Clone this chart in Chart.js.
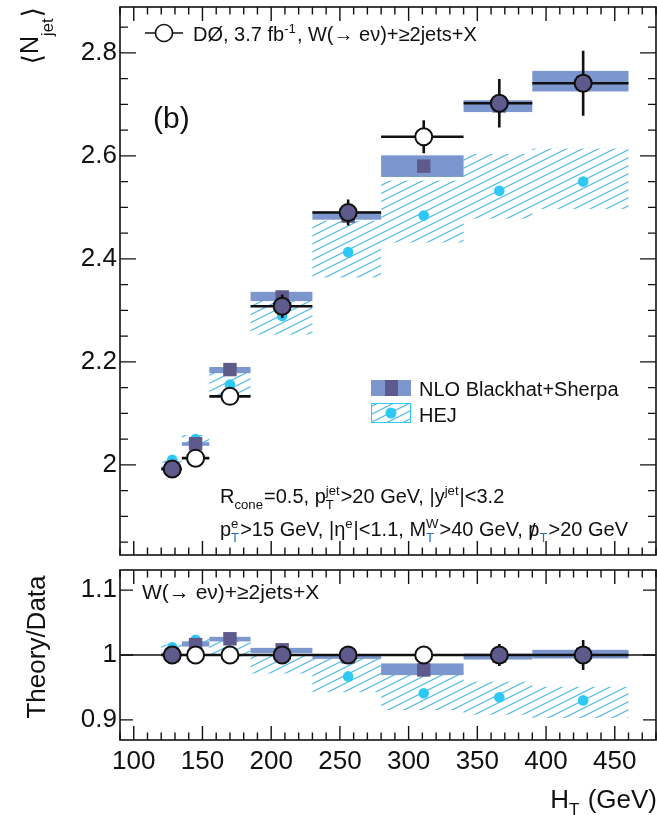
<!DOCTYPE html>
<html>
<head>
<meta charset="utf-8">
<script src="https://cdn.jsdelivr.net/npm/chart.js@4.4.0/dist/chart.umd.min.js"></script>
<style>
  html, body { margin: 0; padding: 0; background: #fff; }
  #wrap { position: relative; width: 657px; height: 815px; overflow: hidden; }
  #wrap canvas { position: absolute; left: 0; }
</style>
</head>
<body>
<div id="wrap">
  <canvas id="main" width="657" height="560" style="top:0"></canvas>
  <canvas id="ratio" width="657" height="255" style="top:560px"></canvas>
</div>
<script>
// H_T bins and mean H_T per bin
const binLo = [120, 135, 155, 185, 230, 280, 340, 390];
const binHi = [135, 155, 185, 230, 280, 340, 390, 460];
const htMean = [128, 145, 170, 208, 256, 311, 366, 427];

// measured <N_jet>
const dataNjet = [1.992, 2.013, 2.133, 2.308, 2.490, 2.637, 2.702, 2.741];
const dataErr = [0.008, 0.010, 0.015, 0.023, 0.025, 0.032, 0.047, 0.063];

// NLO Blackhat+Sherpa
const nloNjet = [1.993, 2.041, 2.185, 2.326, 2.483, 2.580, 2.697, 2.743];
const nloLo = [1.989, 2.037, 2.178, 2.318, 2.476, 2.559, 2.685, 2.725];
const nloHi = [1.997, 2.044, 2.190, 2.336, 2.492, 2.601, 2.708, 2.765];

// HEJ
const hejNjet = [2.010, 2.050, 2.156, 2.289, 2.413, 2.484, 2.532, 2.550];
const hejLo = [2.004, 2.039, 2.133, 2.253, 2.364, 2.432, 2.478, 2.497];
const hejHi = [2.016, 2.058, 2.179, 2.318, 2.474, 2.552, 2.604, 2.614];

// theory / data
const ratioOne = [1, 1, 1, 1, 1, 1, 1, 1];
const ratioErr = [0.004, 0.005, 0.007, 0.010, 0.010, 0.012, 0.017, 0.023];
const nloRatio = [1.001, 1.016, 1.025, 1.008, 0.997, 0.977, 0.998, 1.001];
const nloRatioLo = [0.998, 1.013, 1.021, 1.003, 0.994, 0.969, 0.993, 0.9945];
const nloRatioHi = [1.004, 1.021, 1.028, 1.011, 1.000, 0.987, 1.002, 1.008];
const hejRatio = [1.012, 1.0235, 1.005, 0.9945, 0.967, 0.941, 0.935, 0.930];
const hejRatioLo = [1.008, 1.013, 0.997, 0.9715, 0.943, 0.915, 0.908, 0.903];
const hejRatioHi = [1.016, 1.026, 1.022, 1.000, 0.997, 0.974, 0.959, 0.951];

// axis labels
const xTickLabels = [100, 150, 200, 250, 300, 350, 400, 450];
const yTickLabels = [2, 2.2, 2.4, 2.6, 2.8];
const ratioTickLabels = [0.9, 1, 1.1];

const FONT = '"Liberation Sans", Arial, Helvetica, sans-serif';
const ink = '#111';
const nloBand = 'rgb(123,151,206)';
const nloMark = 'rgb(94,90,140)';
const hejDot = 'rgb(46,200,245)';
const hejLine = 'rgb(98,190,228)';
const markerFill = [nloMark, '#fff', '#fff', nloMark, nloMark, '#fff', nloMark, nloMark];

Chart.defaults.font.family = FONT;

// diagonal hatch used for the HEJ band
function hatch() {
    const c = document.createElement('canvas');
    c.width = 16; c.height = 8;
    const g = c.getContext('2d');
    g.strokeStyle = hejLine;
    g.lineWidth = 1.3;
    g.beginPath();
    [-8, 0, 8].forEach(d => { g.moveTo(-4, 10 + d); g.lineTo(20, -2 + d); });
    g.stroke();
    return g.createPattern(c, 'repeat');
}
const hejHatch = hatch();

// text with sub/superscripts, returns the width drawn
function richText(ctx, x, y, parts, size, align) {
    const big = size + 'px ' + FONT;
    const small = (size * 0.66).toFixed(1) + 'px ' + FONT;
    const w = parts.map(p => {
        if (typeof p === 'string' || p.slash) {
            ctx.font = big;
            return ctx.measureText(typeof p === 'string' ? p : p.slash).width;
        }
        if (p.t) { ctx.font = p.font; return ctx.measureText(p.t).width; }
        ctx.font = small;
        return Math.max(p.sub ? ctx.measureText(p.sub).width : 0,
                        p.sup ? ctx.measureText(p.sup).width : 0) + 1;
    });
    const total = w.reduce((a, b) => a + b, 0);
    let cx = x;
    if (align === 'right') cx -= total;
    if (align === 'center') cx -= total / 2;
    ctx.textAlign = 'left';
    ctx.textBaseline = 'alphabetic';
    parts.forEach((p, i) => {
        ctx.fillStyle = ink;
        if (typeof p === 'string') {
            ctx.font = big;
            ctx.fillText(p, cx, y);
        } else if (p.t) {
            ctx.font = p.font;
            ctx.fillText(p.t, cx, y + (p.dy || 0));
        } else if (p.slash) {
            ctx.font = big;
            ctx.fillText(p.slash, cx, y);
            ctx.fillText('/', cx + w[i] * 0.15, y + size * 0.12);
        } else {
            ctx.font = small;
            if (p.sup) ctx.fillText(p.sup, cx, y - size * 0.42);
            if (p.sub) {
                if (p.tint) ctx.fillStyle = p.tint;
                ctx.fillText(p.sub, cx, y + size * (p.dy || 0.28));
            }
        }
        cx += w[i];
    });
    return total;
}

function rotatedText(ctx, x, y, parts, size, align) {
    ctx.save();
    ctx.translate(x, y);
    ctx.rotate(-Math.PI / 2);
    richText(ctx, 0, 0, parts, size, align);
    ctx.restore();
}

// boxes, error bars, frame and inside ticks for one panel
function panelPlugin(cfg) {
    return {
        id: 'panel',
        beforeDatasetsDraw(chart) {
            const { ctx, chartArea: a, scales: { x, y } } = chart;
            ctx.save();
            ctx.beginPath();
            ctx.rect(a.left, a.top, a.right - a.left, a.bottom - a.top);
            ctx.clip();
            cfg.bands.forEach(b => {
                ctx.fillStyle = b.fill;
                binLo.forEach((lo, i) => {
                    const x0 = x.getPixelForValue(lo), x1 = x.getPixelForValue(binHi[i]);
                    const y0 = y.getPixelForValue(b.hi[i]), y1 = y.getPixelForValue(b.lo[i]);
                    ctx.fillRect(x0, y0, x1 - x0, y1 - y0);
                });
            });
            if (cfg.unity) {
                const py = y.getPixelForValue(1);
                ctx.strokeStyle = ink;
                ctx.lineWidth = 1.5;
                ctx.beginPath();
                ctx.moveTo(a.left, py);
                ctx.lineTo(a.right, py);
                ctx.stroke();
            }
            ctx.restore();
        },
        beforeDatasetDraw(chart, args) {
            if (args.index !== 0) return;
            const { ctx, scales: { x, y } } = chart;
            ctx.save();
            ctx.strokeStyle = ink;
            ctx.lineWidth = 2.6;
            ctx.beginPath();
            cfg.values.forEach((v, i) => {
                const py = y.getPixelForValue(v), px = x.getPixelForValue(htMean[i]);
                ctx.moveTo(x.getPixelForValue(binLo[i]), py);
                ctx.lineTo(x.getPixelForValue(binHi[i]), py);
                ctx.moveTo(px, y.getPixelForValue(v + cfg.errors[i]));
                ctx.lineTo(px, y.getPixelForValue(v - cfg.errors[i]));
            });
            ctx.stroke();
            ctx.restore();
        },
        afterDraw(chart) {
            const { ctx, chartArea: a, scales: { x, y } } = chart;
            ctx.save();
            ctx.strokeStyle = ink;
            ctx.lineWidth = 1.4;
            ctx.beginPath();
            for (let v = 90; v <= 480.001; v += 10) {
                const px = x.getPixelForValue(v);
                const len = v % 50 === 0 ? 14 : 7.5;
                ctx.moveTo(px, a.top); ctx.lineTo(px, a.top + len);
                ctx.moveTo(px, a.bottom); ctx.lineTo(px, a.bottom - len);
            }
            for (let k = 0; ; k++) {
                const v = cfg.yFrom + k * cfg.yMinor;
                if (v > cfg.yTo + 1e-6) break;
                const q = v / cfg.yMajor;
                const len = Math.abs(q - Math.round(q)) < 1e-6 ? cfg.yMajorLen : 8;
                const py = y.getPixelForValue(v);
                ctx.moveTo(a.left, py); ctx.lineTo(a.left + len, py);
                ctx.moveTo(a.right, py); ctx.lineTo(a.right - len, py);
            }
            ctx.stroke();
            ctx.lineWidth = 1.6;
            ctx.strokeRect(a.left, a.top, a.right - a.left, a.bottom - a.top);
            cfg.labels(ctx);
            ctx.restore();
        }
    };
}

// the chart area edges are set by the layout padding alone
function noLabelPadding(s) {
    s.paddingTop = 0; s.paddingBottom = 0;
    s.paddingLeft = 0; s.paddingRight = 0;
}

function yAxis(min, max, ticks) {
    return {
        min: min, max: max,
        afterFit: s => { s.width = 120; noLabelPadding(s); },
        afterBuildTicks: s => { s.ticks = ticks.map(v => ({ value: v })); },
        ticks: { font: { size: 26 }, color: ink, padding: 3, callback: v => String(v) },
        grid: { display: false, drawTicks: false },
        border: { display: false }
    };
}

function pointSets(data, nlo, hej) {
    return [
        { label: 'data', data: htMean.map((x, i) => ({ x, y: data[i] })), pointStyle: 'circle',
          pointRadius: 8.5, pointBorderWidth: 2, pointBorderColor: ink, pointBackgroundColor: markerFill, order: 0 },
        { label: 'NLO', data: htMean.map((x, i) => ({ x, y: nlo[i] })), pointStyle: 'rect',
          pointRadius: 9.5, pointBorderWidth: 0, pointBackgroundColor: nloMark, order: 1 },
        { label: 'HEJ', data: htMean.map((x, i) => ({ x, y: hej[i] })), pointStyle: 'circle',
          pointRadius: 5.3, pointBorderWidth: 0, pointBackgroundColor: hejDot, order: 2 }
    ];
}

const common = {
    responsive: false,
    animation: false,
    events: [],
    plugins: { legend: { display: false }, tooltip: { enabled: false } }
};

const bracketFont = '27px "DejaVu Sans", sans-serif';

new Chart(document.getElementById('main'), {
    type: 'scatter',
    data: { datasets: pointSets(dataNjet, nloNjet, hejNjet) },
    options: Object.assign({}, common, {
        layout: { autoPadding: false, padding: { top: 7, right: 1, bottom: 5, left: 0 } },
        scales: {
            x: { type: 'linear', min: 90, max: 480, display: false, afterFit: noLabelPadding },
            y: yAxis(1.825, 2.889, yTickLabels)
        }
    }),
    plugins: [panelPlugin({
        bands: [{ lo: hejLo, hi: hejHi, fill: hejHatch }, { lo: nloLo, hi: nloHi, fill: nloBand }],
        values: dataNjet, errors: dataErr,
        yFrom: 1.85, yTo: 2.85, yMinor: 0.05, yMajor: 0.2, yMajorLen: 16,
        labels: ctx => {
            rotatedText(ctx, 38, 7, [{ t: '⟨', font: bracketFont, dy: 3 }, 'N', { sub: 'jet', dy: 0.6 },
                { t: '⟩', font: bracketFont, dy: 3 }], 25, 'right');
            // legend for the data
            ctx.lineWidth = 1.6;
            ctx.beginPath(); ctx.moveTo(145, 33); ctx.lineTo(183, 33); ctx.stroke();
            ctx.fillStyle = '#fff';
            ctx.beginPath(); ctx.arc(164, 33, 8.5, 0, Math.PI * 2); ctx.fill(); ctx.stroke();
            richText(ctx, 193, 41, ['DØ, 3.7 fb', { sup: '-1' }, ', W(→ eν)+≥2jets+X'], 20);
            richText(ctx, 153, 128, ['(b)'], 30);
            // legend for the theory bands
            ctx.fillStyle = nloBand; ctx.fillRect(371, 380, 40, 16);
            ctx.fillStyle = nloMark; ctx.fillRect(385, 380, 13, 16);
            ctx.fillStyle = hejHatch; ctx.fillRect(371, 403, 40, 20);
            ctx.strokeStyle = hejDot; ctx.lineWidth = 1;
            ctx.strokeRect(371.5, 403.5, 39, 19);
            ctx.fillStyle = hejDot;
            ctx.beginPath(); ctx.arc(391, 413, 5.5, 0, Math.PI * 2); ctx.fill();
            richText(ctx, 419, 396, ['NLO Blackhat+Sherpa'], 20);
            richText(ctx, 419, 422, ['HEJ'], 20);
            const blueT = 'rgb(40,110,190)';
            richText(ctx, 220, 503, ['R', { sub: 'cone' }, '=0.5, p', { sub: 'T', sup: 'jet' },
                '>20 GeV, |y', { sup: 'jet' }, '|<3.2'], 20);
            richText(ctx, 220, 536, ['p', { sub: 'T', sup: 'e', tint: blueT }, '>15 GeV, |η', { sup: 'e' },
                '|<1.1, M', { sub: 'T', sup: 'W', tint: blueT }, '>40 GeV, ', { slash: 'p' },
                { sub: 'T', tint: blueT }, '>20 GeV'], 20);
        }
    })]
});

new Chart(document.getElementById('ratio'), {
    type: 'scatter',
    data: { datasets: pointSets(ratioOne, nloRatio, hejRatio) },
    options: Object.assign({}, common, {
        layout: { autoPadding: false, padding: { top: 10, right: 1, bottom: 0, left: 0 } },
        scales: {
            x: {
                type: 'linear', min: 90, max: 480,
                afterFit: s => { s.height = 75; noLabelPadding(s); },
                afterBuildTicks: s => { s.ticks = xTickLabels.map(v => ({ value: v })); },
                ticks: { font: { size: 26 }, color: ink, padding: 6, autoSkip: false, maxRotation: 0 },
                grid: { display: false, drawTicks: false },
                border: { display: false }
            },
            y: yAxis(0.869, 1.131, ratioTickLabels)
        }
    }),
    plugins: [panelPlugin({
        bands: [{ lo: hejRatioLo, hi: hejRatioHi, fill: hejHatch }, { lo: nloRatioLo, hi: nloRatioHi, fill: nloBand }],
        values: ratioOne, errors: ratioErr, unity: true,
        yFrom: 0.9, yTo: 1.1, yMinor: 0.1, yMajor: 0.1, yMajorLen: 13,
        labels: ctx => {
            rotatedText(ctx, 45, 87, ['Theory/Data'], 26, 'center');
            richText(ctx, 142, 39, ['W(→ eν)+≥2jets+X'], 21);
            richText(ctx, 657, 248, ['H', { sub: 'T' }, ' (GeV)'], 26, 'right');
        }
    })]
});
</script>
</body>
</html>
